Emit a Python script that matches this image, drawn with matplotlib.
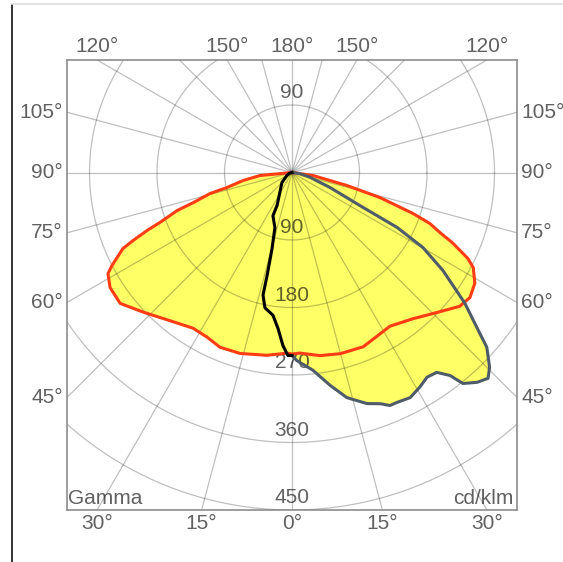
import numpy as np
import matplotlib.pyplot as plt
from matplotlib.lines import Line2D

plt.rcParams['font.family'] = ['Liberation Sans', 'DejaVu Sans']

# light distribution, gamma in degrees (0 = straight down), intensity in cd/klm
# C0 / C180 plane (red)
red_left_gamma = [0, 1.6, 7.8, 16, 22.4, 27.3, 32.4, 39.5, 46.8, 52.7, 57.7, 61.2, 62.7, 64.1,
                  65.8, 66.8, 68.2, 69.3, 71.7, 73, 75.6, 77, 80.7, 84.6, 90]
red_left_cd = [242, 241, 246, 251, 252, 247, 246, 256, 272, 288, 287, 280, 270, 259,
               247, 231, 208, 188, 161, 138, 113, 89, 66, 43, 0]
red_right_gamma = [0, 2.5, 8.7, 14.9, 22.2, 27.4, 32.5, 39.6, 46.8, 51.4, 54.9, 58.8, 62.3,
                   63.95, 65.1, 66.4, 67.9, 69.7, 71.3, 74.1, 76.7, 81.9, 90]
red_right_cd = [242, 241, 247, 250, 251, 246, 243, 253, 271, 286, 290, 285, 273,
                261, 247, 233, 213, 196, 170, 122, 75, 28, 0]

# C90 plane (grey-blue) and C270 plane (black)
blue_gamma = [0, 1.5, 6, 10.1, 13.7, 18, 20.9, 22.8, 24.5, 27.7, 30.8, 33.4, 35.9, 37.9, 39,
              41.4, 43.6, 45.4, 48.1, 50, 52.9, 57, 60.2, 62.4, 63.8, 68.5, 75, 82, 90]
blue_cd = [244, 251, 265, 288, 309, 324, 330, 337, 337, 339, 333, 327, 329, 343, 362,
           373, 379, 370, 349, 322, 289, 240, 201, 158, 106, 54, 25, 10, 0]
black_gamma = [0, 1.3, 3, 5.1, 7.6, 11.3, 13.3, 13.6, 14.7, 17.2, 23.8, 24.4, 45, 60, 75, 90]
black_cd = [244, 244, 231, 209, 192, 184, 168, 141, 105, 77, 63, 48, 19, 8, 3, 0]

rings = [90, 180, 270, 360, 450]
spokes = list(range(0, 181, 15))
side_ticks = [45, 60, 75, 90, 105]
bottom_ticks = [0, 15, 30]
top_ticks = [120, 150, 180]


def to_xy(gamma, cd, side):
    g = np.radians(np.asarray(gamma, dtype=float))
    cd = np.asarray(cd, dtype=float)
    return side * cd * np.sin(g), -cd * np.cos(g)


fig = plt.figure(figsize=(5.63, 5.62), dpi=100)
ax = fig.add_axes([67 / 563, 52 / 562, 450 / 563, 450 / 562])
ax.set_xlim(-300, 300)
ax.set_ylim(-450, 150)
ax.set_xticks([])
ax.set_yticks([])
for sp in ax.spines.values():
    sp.set_color('#8c8c8c')
    sp.set_linewidth(1.2)

# curves
rlx, rly = to_xy(red_left_gamma, red_left_cd, -1)
rrx, rry = to_xy(red_right_gamma, red_right_cd, 1)
red_x = np.concatenate([rlx[::-1], rrx])
red_y = np.concatenate([rly[::-1], rry])
bkx, bky = to_xy(black_gamma, black_cd, -1)
blx, bly = to_xy(blue_gamma, blue_cd, 1)
blue_x = np.concatenate([bkx[::-1], blx])
blue_y = np.concatenate([bky[::-1], bly])

ax.fill(red_x, red_y, color='#ffff66', lw=0, zorder=1)
ax.fill(blue_x, blue_y, color='#ffff66', lw=0, zorder=1)

# grid
grid_kw = dict(color='black', alpha=0.25, lw=0.9, zorder=2)
t = np.linspace(0, 2 * np.pi, 400)
for r in rings:
    ax.plot(r * np.cos(t), r * np.sin(t), **grid_kw)
for a in spokes:
    sides = [1] if a in (0, 180) else [-1, 1]
    for s in sides:
        x, y = to_xy([0, a], [0, 1000], s)
        ax.plot(x, y, **grid_kw)

ax.plot(red_x, red_y, color='#ff3c14', lw=2.2, zorder=4, solid_joinstyle='round')
ax.plot(blx, bly, color='#4e5c6a', lw=2.2, zorder=4, solid_joinstyle='round')
ax.plot(bkx, bky, color='black', lw=2.2, zorder=5, solid_joinstyle='round')

label_color = (0, 0, 0, 0.62)
fs = 15

# intensity labels
ax.annotate(str(rings[0]), (0, rings[0]), xytext=(0, 2), textcoords='offset points',
            ha='center', va='bottom', fontsize=fs, color=label_color, zorder=3)
for r in rings:
    ax.annotate(str(r), (0, -r), xytext=(0, 2), textcoords='offset points',
                ha='center', va='bottom', fontsize=fs, color=label_color, zorder=3)


# angle labels outside the frame
def edge_point(a, s):
    g = np.radians(a)
    dx, dy = s * np.sin(g), -np.cos(g)
    ts = []
    if dx > 1e-9:
        ts.append(300 / dx)
    if dx < -1e-9:
        ts.append(-300 / dx)
    if dy > 1e-9:
        ts.append(150 / dy)
    if dy < -1e-9:
        ts.append(-450 / dy)
    tt = min(ts)
    return dx * tt, dy * tt


for a in side_ticks:
    for s in (-1, 1):
        x, y = edge_point(a, s)
        ax.annotate(f"{a}°", (x, y), xytext=(3 * s, 0), textcoords='offset points',
                    ha='left' if s > 0 else 'right', va='center', fontsize=fs,
                    color=label_color, annotation_clip=False)
for a in bottom_ticks:
    for s in ([1] if a == 0 else [-1, 1]):
        x, y = edge_point(a, s)
        ax.annotate(f"{a}°", (x, y), xytext=(0, -3), textcoords='offset points',
                    ha='center', va='top', fontsize=fs, color=label_color,
                    annotation_clip=False)
for a in top_ticks:
    for s in ([1] if a == 180 else [-1, 1]):
        x, y = edge_point(a, s)
        ax.annotate(f"{a}°", (x, y), xytext=(0, 3), textcoords='offset points',
                    ha='center', va='bottom', fontsize=fs, color=label_color,
                    annotation_clip=False)

ax.text(0.003, 0.004, 'Gamma', transform=ax.transAxes, ha='left', va='bottom',
        fontsize=fs, color=label_color)
ax.text(0.993, 0.004, 'cd/klm', transform=ax.transAxes, ha='right', va='bottom',
        fontsize=fs, color=label_color)

# screenshot frame
fig.add_artist(Line2D([12 / 563, 12 / 563], [0, 1 - 5 / 562], color='#222222', lw=1.3))
fig.add_artist(Line2D([12 / 563, 1], [1 - 4 / 562, 1 - 4 / 562], color='#dddddd', lw=1.2))

fig.savefig('out.png', dpi=100)
